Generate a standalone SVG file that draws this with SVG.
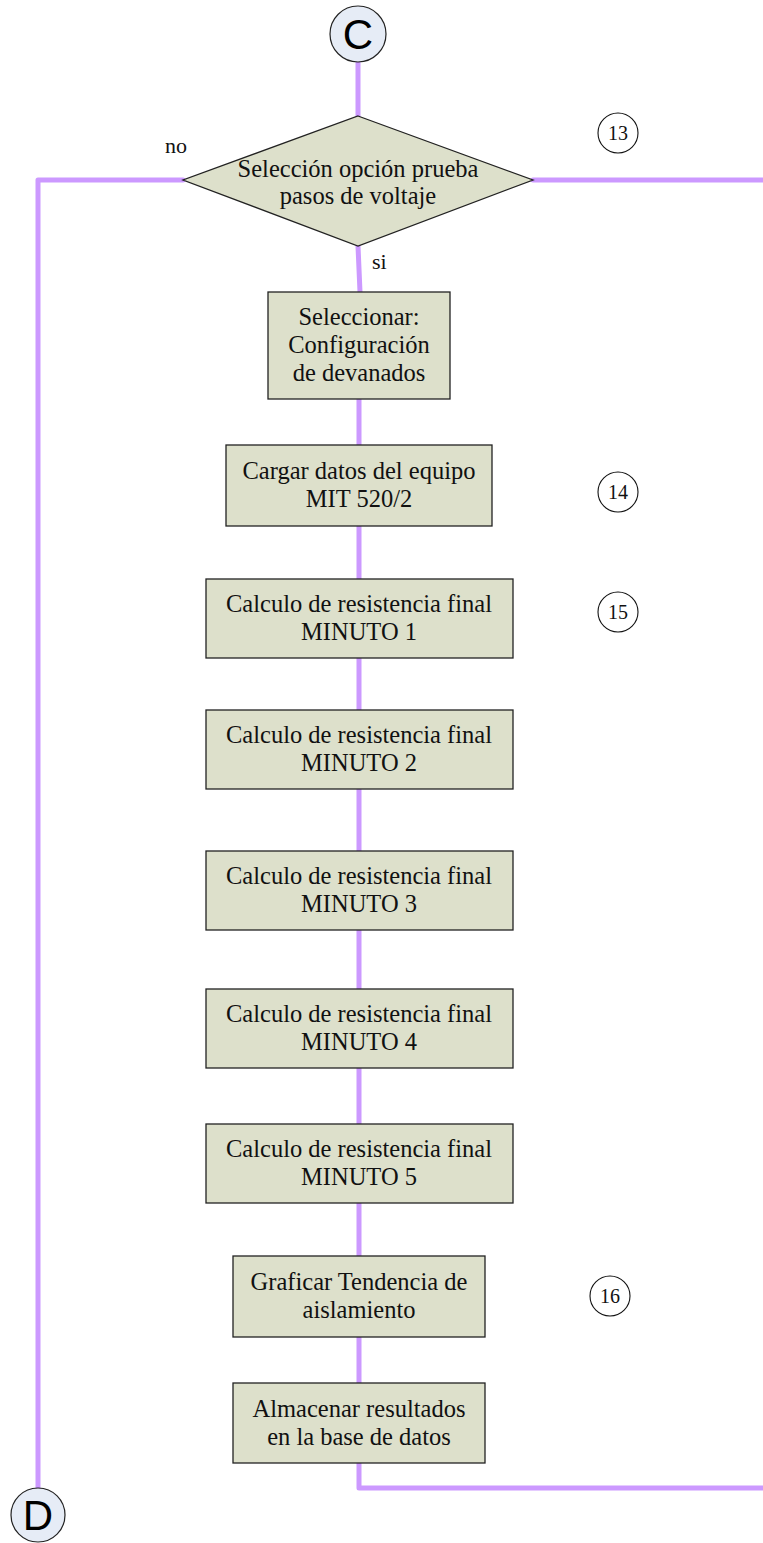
<svg xmlns="http://www.w3.org/2000/svg" width="763" height="1543" viewBox="0 0 763 1543">
  <style>
    .proc { fill: #DDE0CB; stroke: #222; stroke-width: 1.3; }
    .term { fill: #E6ECF6; stroke: #222; stroke-width: 1.2; }
    .ref { fill: #fff; stroke: #111; stroke-width: 1.1; }
    .lbl { font-family: "Liberation Serif", "Times New Roman", serif; font-size: 24.5px; fill: #111; text-anchor: middle; }
    .small { font-family: "Liberation Serif", "Times New Roman", serif; font-size: 22px; fill: #111; }
    .num { font-family: "Liberation Serif", "Times New Roman", serif; font-size: 20px; fill: #111; text-anchor: middle; }
    .big { font-family: "Liberation Sans", Arial, sans-serif; font-size: 42px; fill: #000; text-anchor: middle; }
    .flow { fill: none; stroke: #CC99FF; stroke-width: 5; stroke-linejoin: round; stroke-linecap: round; }
  </style>

  <!-- connectors -->
  <g id="connectors">
    <line class="flow" x1="358" y1="62" x2="358" y2="116"/>
    <polyline class="flow" points="183,180 38,180 38,1488"/>
    <line class="flow" x1="533" y1="180" x2="766" y2="180"/>
    <line class="flow" x1="358" y1="246" x2="360" y2="292"/>
    <line class="flow" x1="359" y1="399" x2="359" y2="445"/>
    <line class="flow" x1="359" y1="526" x2="359" y2="579"/>
    <line class="flow" x1="359" y1="658" x2="359" y2="710"/>
    <line class="flow" x1="359" y1="789" x2="359" y2="851"/>
    <line class="flow" x1="359" y1="930" x2="359" y2="989"/>
    <line class="flow" x1="359" y1="1068" x2="359" y2="1124"/>
    <line class="flow" x1="359" y1="1203" x2="359" y2="1256"/>
    <line class="flow" x1="359" y1="1337" x2="359" y2="1383"/>
    <polyline class="flow" points="359,1463 359,1488 766,1488"/>
  </g>

  <!-- start connector C -->
  <g id="node-c">
    <circle class="term" cx="358" cy="34" r="28"/>
    <text class="big" x="358" y="49">C</text>
  </g>

  <!-- decision -->
  <g id="node-decision">
    <polygon class="proc" points="358,116 533,180 358,246 183,180"/>
    <text class="lbl" x="358" y="177">Selección opción prueba</text>
    <text class="lbl" x="358" y="204">pasos de voltaje</text>
  </g>
  <g id="label-no"><text class="small" x="165" y="153">no</text></g>
  <g id="label-si"><text class="small" x="372" y="269">si</text></g>

  <g id="node-config">
    <rect class="proc" x="268" y="292" width="182" height="107"/>
    <text class="lbl" x="359" y="325">Seleccionar:</text>
    <text class="lbl" x="359" y="353">Configuración</text>
    <text class="lbl" x="359" y="381">de devanados</text>
  </g>

  <g id="node-cargar">
    <rect class="proc" x="226" y="445" width="266" height="81"/>
    <text class="lbl" x="359" y="479">Cargar datos del equipo</text>
    <text class="lbl" x="359" y="507">MIT 520/2</text>
  </g>

  <g id="node-min1">
    <rect class="proc" x="206" y="579" width="307" height="79"/>
    <text class="lbl" x="359" y="612">Calculo de resistencia final</text>
    <text class="lbl" x="359" y="640">MINUTO 1</text>
  </g>

  <g id="node-min2">
    <rect class="proc" x="206" y="710" width="307" height="79"/>
    <text class="lbl" x="359" y="743">Calculo de resistencia final</text>
    <text class="lbl" x="359" y="771">MINUTO 2</text>
  </g>

  <g id="node-min3">
    <rect class="proc" x="206" y="851" width="307" height="79"/>
    <text class="lbl" x="359" y="884">Calculo de resistencia final</text>
    <text class="lbl" x="359" y="912">MINUTO 3</text>
  </g>

  <g id="node-min4">
    <rect class="proc" x="206" y="989" width="307" height="79"/>
    <text class="lbl" x="359" y="1022">Calculo de resistencia final</text>
    <text class="lbl" x="359" y="1050">MINUTO 4</text>
  </g>

  <g id="node-min5">
    <rect class="proc" x="206" y="1124" width="307" height="79"/>
    <text class="lbl" x="359" y="1157">Calculo de resistencia final</text>
    <text class="lbl" x="359" y="1185">MINUTO 5</text>
  </g>

  <g id="node-graficar">
    <rect class="proc" x="233" y="1256" width="252" height="81"/>
    <text class="lbl" x="359" y="1290">Graficar Tendencia de</text>
    <text class="lbl" x="359" y="1318">aislamiento</text>
  </g>

  <g id="node-almacenar">
    <rect class="proc" x="233" y="1383" width="252" height="80"/>
    <text class="lbl" x="359" y="1417">Almacenar resultados</text>
    <text class="lbl" x="359" y="1445">en la base de datos</text>
  </g>

  <!-- end connector D -->
  <g id="node-d">
    <circle class="term" cx="38" cy="1515" r="27"/>
    <text class="big" x="38" y="1530">D</text>
  </g>

  <!-- step references -->
  <g id="ref-13">
    <circle class="ref" cx="618" cy="133" r="20"/>
    <text class="num" x="618" y="140">13</text>
  </g>
  <g id="ref-14">
    <circle class="ref" cx="618" cy="492" r="20"/>
    <text class="num" x="618" y="499">14</text>
  </g>
  <g id="ref-15">
    <circle class="ref" cx="618" cy="612" r="20"/>
    <text class="num" x="618" y="619">15</text>
  </g>
  <g id="ref-16">
    <circle class="ref" cx="610" cy="1296" r="20"/>
    <text class="num" x="610" y="1303">16</text>
  </g>
</svg>
